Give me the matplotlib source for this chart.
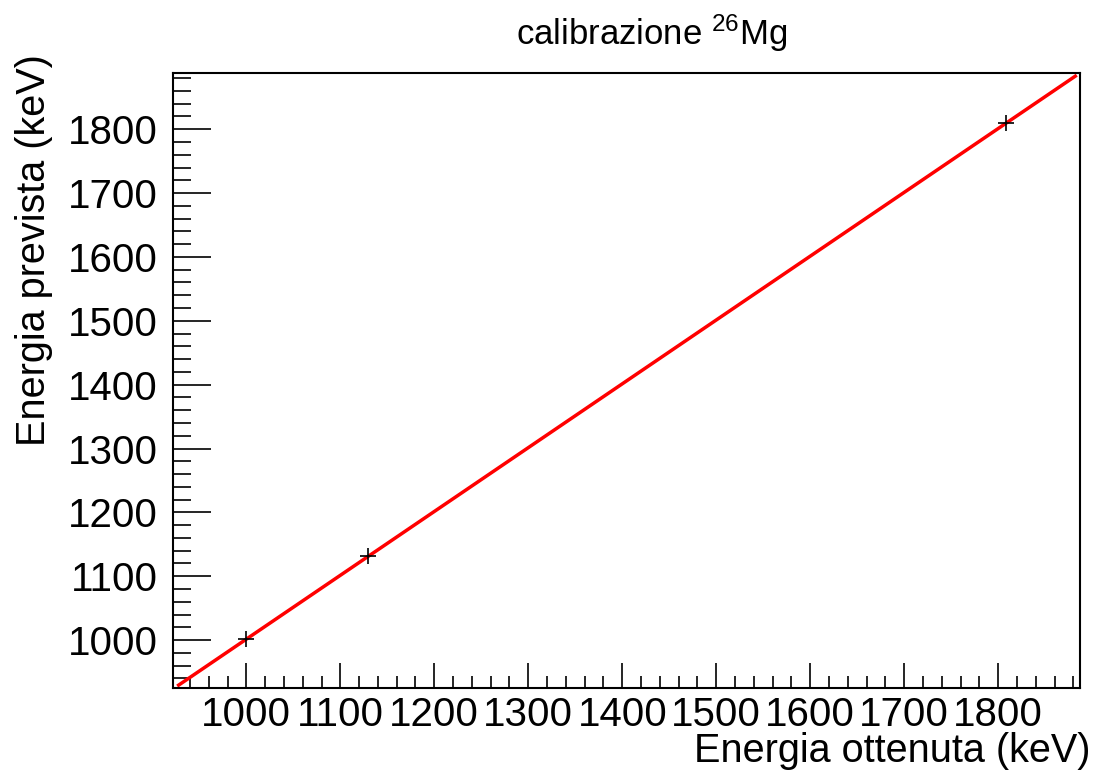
import numpy as np
import matplotlib
matplotlib.use("Agg")
import matplotlib.pyplot as plt
from matplotlib.ticker import MultipleLocator

plt.rcParams['font.family'] = ['Liberation Sans', 'DejaVu Sans']
plt.rcParams['mathtext.fontset'] = 'custom'
plt.rcParams['mathtext.rm'] = 'Liberation Sans'
plt.rcParams['mathtext.it'] = 'Liberation Sans:italic'

# calibration points (keV)
e_measured = [1000, 1129, 1808]
e_expected = [1001, 1131, 1809]
fit_range = [928, 1882]

# linear fit
slope, intercept = np.polyfit(e_measured, e_expected, 1)
xfit = np.linspace(fit_range[0], fit_range[1], 100)
yfit = slope * xfit + intercept

W, H = 1101, 771
fig = plt.figure(figsize=(W / 100, H / 100), dpi=100)
ax = fig.add_axes([173 / W, (H - 688) / H, 907 / W, 615 / H])

ax.plot(xfit, yfit, color='red', lw=2.5, zorder=2)
ax.plot(e_measured, e_expected, ls='none', marker='+', ms=12, mew=1.2,
        color='black', zorder=3)

ax.set_xlim(922, 1887)
ax.set_ylim(925, 1888)

ax.xaxis.set_major_locator(MultipleLocator(100))
ax.xaxis.set_minor_locator(MultipleLocator(20))
ax.yaxis.set_major_locator(MultipleLocator(100))
ax.yaxis.set_minor_locator(MultipleLocator(20))

ax.tick_params(axis='both', which='both', direction='in', top=False, right=False,
               width=1.2, labelsize=29)
ax.tick_params(axis='x', which='major', length=18, pad=6)
ax.tick_params(axis='x', which='minor', length=9)
ax.tick_params(axis='y', which='major', length=27, pad=11)
ax.tick_params(axis='y', which='minor', length=13)

for s in ax.spines.values():
    s.set_linewidth(1.5)

fig.text(1090 / W, 1 - 762 / H, 'Energia ottenuta (keV)', ha='right', va='baseline',
         fontsize=28.5)
fig.text(34 / W, 1 - 54 / H, 'Energia prevista (keV)', ha='center', va='top',
         rotation=90, fontsize=28.5)
fig.text(652 / W, 1 - 45 / H, r'calibrazione $^{26}$Mg', ha='center', va='baseline',
         fontsize=25)

fig.savefig('out.png', dpi=100, facecolor='white')
